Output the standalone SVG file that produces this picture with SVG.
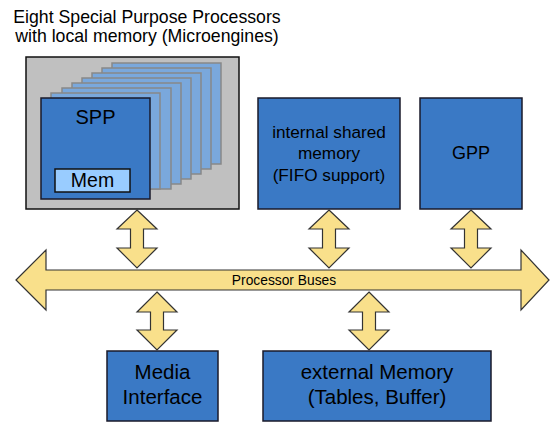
<svg xmlns="http://www.w3.org/2000/svg" width="550" height="423" viewBox="0 0 550 423">
<style>
text{font-family:"Liberation Sans",Arial,sans-serif;fill:#000;text-anchor:middle}
.box{fill:#3a79c5;stroke:#1a1a2a;stroke-width:1.5}
.page{fill:#7aa8dc;stroke:#888;stroke-width:1.5}
.arr{fill:#f9e08b;stroke:#333;stroke-width:1.2;stroke-linejoin:miter}
</style>
<rect width="550" height="423" fill="#fff"/>
<text x="147" y="23" font-size="17.7">Eight Special Purpose Processors</text>
<text x="147" y="42" font-size="17.7">with local memory (Microengines)</text>
<g id="spp-group">
<rect x="26" y="57" width="213" height="152" fill="#c0c0c0" stroke="#111" stroke-width="1.5"/>
<rect class="page" x="112" y="63" width="109" height="101"/>
<rect class="page" x="102" y="68" width="109" height="101"/>
<rect class="page" x="92" y="73" width="109" height="101"/>
<rect class="page" x="82" y="78" width="109" height="101"/>
<rect class="page" x="72" y="83" width="109" height="101"/>
<rect class="page" x="62" y="88" width="109" height="101"/>
<rect class="page" x="51" y="93" width="109" height="96"/>
<rect class="box" x="41" y="98" width="109" height="101"/>
<text x="95.5" y="124" font-size="20">SPP</text>
<rect x="55" y="169" width="75" height="23" fill="#99ccff" stroke="#111" stroke-width="1.5"/>
<text x="92.5" y="187" font-size="19.5">Mem</text>
</g>
<g id="internal-memory">
<rect class="box" x="258" y="98" width="142" height="111"/>
<text x="329" y="138" font-size="17.2">internal shared</text>
<text x="329" y="159" font-size="17.2">memory</text>
<text x="329" y="181" font-size="17.2">(FIFO support)</text>
</g>
<g id="gpp">
<rect class="box" x="420" y="98" width="102" height="111"/>
<text x="471" y="159" font-size="18">GPP</text>
</g>
<g id="media-interface">
<rect class="box" x="107" y="351" width="111" height="70"/>
<text x="162.5" y="379" font-size="20.5">Media</text>
<text x="162.5" y="404" font-size="20.5">Interface</text>
</g>
<g id="external-memory">
<rect class="box" x="263" y="351" width="228" height="70"/>
<text x="377" y="379" font-size="20.5">external Memory</text>
<text x="377" y="404" font-size="20.5">(Tables, Buffer)</text>
</g>
<g id="connectors">
<path class="arr" d="M16,280 L46,250 L46,270 L521,270 L521,250 L549,280 L521,310 L521,290 L46,290 L46,310 Z"/>
<text x="284" y="285" font-size="13.8">Processor Buses</text>
<path class="arr" d="M137,210 L157,229 L143.5,229 L143.5,248 L157,248 L137,268 L117,248 L130.5,248 L130.5,229 L117,229 Z"/>
<path class="arr" d="M329,210 L349,229 L335.5,229 L335.5,248 L349,248 L329,268 L309,248 L322.5,248 L322.5,229 L309,229 Z"/>
<path class="arr" d="M471,210 L491,229 L477.5,229 L477.5,248 L491,248 L471,268 L451,248 L464.5,248 L464.5,229 L451,229 Z"/>
<path class="arr" d="M157,292 L177,312 L163.5,312 L163.5,330 L177,330 L157,350 L137,330 L150.5,330 L150.5,312 L137,312 Z"/>
<path class="arr" d="M369,292 L389,312 L375.5,312 L375.5,330 L389,330 L369,350 L349,330 L362.5,330 L362.5,312 L349,312 Z"/>
</g>
</svg>
